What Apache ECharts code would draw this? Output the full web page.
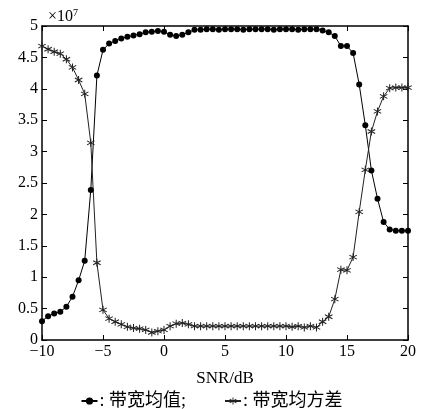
<!DOCTYPE html>
<html>
<head>
<meta charset="utf-8">
<script src="https://cdn.jsdelivr.net/npm/echarts@6/dist/echarts.min.js"></script>
<style>
  html, body { margin: 0; padding: 0; background: #fff; }
  #main { width: 423px; height: 409px; }
</style>
</head>
<body>
<div id="main"></div>
<script>
// SNR (dB)
var snr = [-10, -9.5, -9, -8.5, -8, -7.5, -7, -6.5, -6, -5.5, -5, -4.5, -4, -3.5, -3, -2.5, -2, -1.5, -1, -0.5,
  0, 0.5, 1, 1.5, 2, 2.5, 3, 3.5, 4, 4.5, 5, 5.5, 6, 6.5, 7, 7.5, 8, 8.5, 9, 9.5,
  10, 10.5, 11, 11.5, 12, 12.5, 13, 13.5, 14, 14.5, 15, 15.5, 16, 16.5, 17, 17.5, 18, 18.5, 19, 19.5, 20]
// 带宽均值 (x1e7)
var meanBw = [0.30, 0.38, 0.42, 0.45, 0.53, 0.69, 0.95, 1.26, 2.39, 4.21, 4.62, 4.72, 4.76, 4.80, 4.83, 4.85, 4.87, 4.90, 4.91, 4.92,
  4.91, 4.86, 4.84, 4.86, 4.90, 4.94, 4.94, 4.95, 4.95, 4.94, 4.95, 4.95, 4.95, 4.94, 4.95, 4.95, 4.95, 4.95, 4.94, 4.95,
  4.95, 4.95, 4.94, 4.95, 4.95, 4.95, 4.93, 4.90, 4.84, 4.68, 4.68, 4.57, 4.07, 3.42, 2.70, 2.25, 1.88, 1.76, 1.74, 1.74, 1.74]
// 带宽均方差 (x1e7)
var stdBw = [4.68, 4.63, 4.59, 4.56, 4.47, 4.34, 4.14, 3.92, 3.14, 1.23, 0.48, 0.34, 0.29, 0.25, 0.21, 0.19, 0.18, 0.16, 0.12, 0.14,
  0.16, 0.22, 0.26, 0.27, 0.25, 0.22, 0.22, 0.22, 0.22, 0.22, 0.22, 0.22, 0.22, 0.22, 0.22, 0.22, 0.22, 0.22, 0.22, 0.22,
  0.22, 0.21, 0.22, 0.20, 0.22, 0.20, 0.29, 0.37, 0.65, 1.12, 1.11, 1.32, 2.04, 2.71, 3.32, 3.64, 3.88, 4.01, 4.02, 4.02, 4.02]

var seriesNames = ['带宽均值', '带宽均方差']

// asterisk marker: three thin bars, 60 degrees apart
var starPath = 'path://M-1.2,-10L1.2,-10L1.2,10L-1.2,10Z' +
  'M-9.26,-3.96L-8.06,-6.04L9.26,3.96L8.06,6.04Z' +
  'M-8.06,6.04L-9.26,3.96L8.06,-6.04L9.26,-3.96Z'

var serif = '"Liberation Serif", "Times New Roman", serif'
var cjk = '"Liberation Serif", "Noto Sans CJK SC", serif'

function pairs(xs, ys) {
  return xs.map(function(x, i) { return [x, ys[i]] })
}

var chart = echarts.init(document.getElementById('main'))
var axisLineStyle = { color: '#000', width: 1.5 }
var tickStyle = { inside: true, length: 5, lineStyle: { color: '#000' } }
var option = {
  animation: false,
  backgroundColor: '#fff',
  title: {
    text: '×10{s|7}',
    left: 43,
    top: 3,
    textStyle: {
      fontFamily: serif,
      fontSize: 16,
      fontWeight: 'normal',
      color: '#000',
      rich: {
        s: { fontFamily: serif, fontSize: 10, verticalAlign: 'top', padding: [0, 0, 8, 0], color: '#000' }
      }
    }
  },
  grid: { left: 42, right: 15, top: 26, bottom: 69 },
  legend: {
    top: 387,
    left: 'center',
    itemWidth: 16,
    itemHeight: 9,
    itemGap: 38,
    data: seriesNames,
    formatter: function(name) {
      return name === '带宽均值' ? ': ' + name + ';' : ': ' + name
    },
    textStyle: { fontFamily: cjk, fontSize: 18, color: '#000', padding: [0, 0, 0, -3] }
  },
  xAxis: [{
    type: 'value',
    min: -10,
    max: 20,
    interval: 5,
    name: 'SNR/dB',
    nameLocation: 'middle',
    nameGap: 30,
    nameTextStyle: { fontFamily: serif, fontSize: 17, color: '#000' },
    axisLine: { onZero: false, lineStyle: axisLineStyle },
    axisTick: tickStyle,
    axisLabel: {
      fontFamily: serif, fontSize: 16, color: '#000', margin: 4,
      formatter: function(v) { return String(v).replace('-', '−') }
    },
    splitLine: { show: false }
  }, {
    type: 'value',
    position: 'top',
    min: -10,
    max: 20,
    interval: 5,
    axisLine: { onZero: false, lineStyle: axisLineStyle },
    axisTick: tickStyle,
    axisLabel: { show: false },
    splitLine: { show: false }
  }],
  yAxis: [{
    type: 'value',
    min: 0,
    max: 5,
    interval: 0.5,
    axisLine: { show: true, onZero: false, lineStyle: axisLineStyle },
    axisTick: { show: true, inside: true, length: 5, lineStyle: { color: '#000' } },
    axisLabel: { fontFamily: serif, fontSize: 16, color: '#000', margin: 4 },
    splitLine: { show: false }
  }, {
    type: 'value',
    position: 'right',
    min: 0,
    max: 5,
    interval: 0.5,
    axisLine: { show: true, onZero: false, lineStyle: axisLineStyle },
    axisTick: { show: true, inside: true, length: 5, lineStyle: { color: '#000' } },
    axisLabel: { show: false },
    splitLine: { show: false }
  }],
  series: [{
    name: seriesNames[0],
    type: 'line',
    data: pairs(snr, meanBw),
    symbol: 'circle',
    symbolSize: 6,
    lineStyle: { color: '#000', width: 1 },
    itemStyle: { color: '#000' }
  }, {
    name: seriesNames[1],
    type: 'line',
    data: pairs(snr, stdBw),
    symbol: starPath,
    symbolSize: 8,
    lineStyle: { color: '#222', width: 1 },
    itemStyle: { color: '#222' }
  }]
}
chart.setOption(option)
</script>
</body>
</html>
